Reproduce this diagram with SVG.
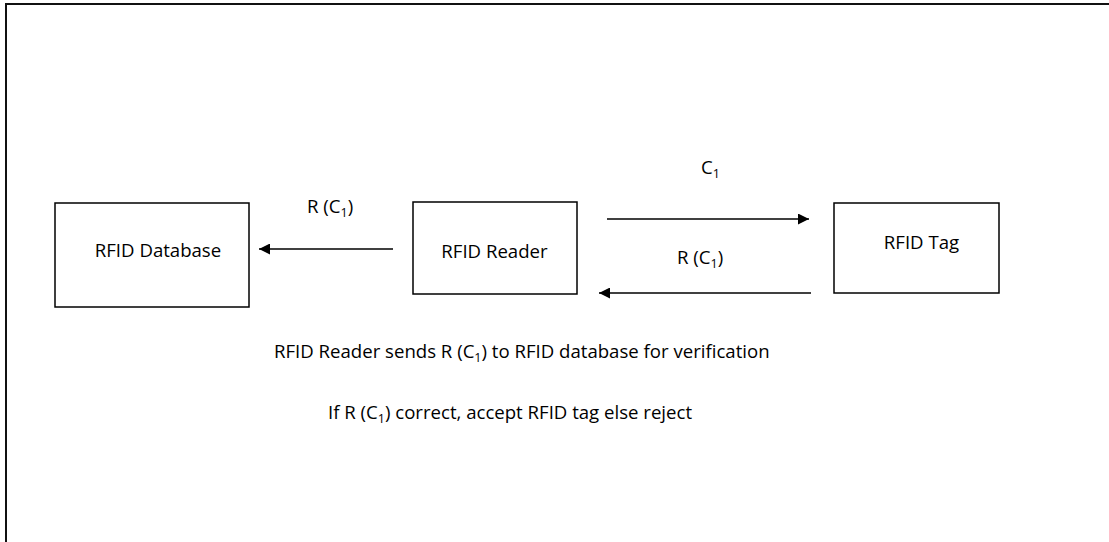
<svg xmlns="http://www.w3.org/2000/svg" width="1109" height="542" viewBox="0 0 1109 542">
<defs>
<style>
.box{fill:#fff;stroke:#000;stroke-width:1.5}
.t{font-family:"Open Sans","Liberation Sans",sans-serif;font-size:18.6px;fill:#000}
.s{font-size:12.5px}
.c{stroke:#000;stroke-width:1.5;fill:none}
</style>
<marker id="ah" viewBox="0 0 10 10" refX="10" refY="5" markerWidth="11" markerHeight="11" markerUnits="userSpaceOnUse" orient="auto">
<path d="M0,0 L10,5 L0,10 z" fill="#000"/>
</marker>
</defs>
<rect width="1109" height="542" fill="#fff"/>
<path d="M6,542 V4 H1109" stroke="#111" stroke-width="2" fill="none"/>
<g id="db">
<rect class="box" x="55" y="203" width="194" height="104"/>
<text class="t" x="158" y="257" text-anchor="middle">RFID Database</text>
</g>
<g id="reader">
<rect class="box" x="413" y="202" width="164" height="92"/>
<text class="t" x="494.5" y="258" text-anchor="middle">RFID Reader</text>
</g>
<g id="tag">
<rect class="box" x="834" y="203" width="165" height="90"/>
<text class="t" x="921.5" y="249" text-anchor="middle">RFID Tag</text>
</g>
<g id="connectors">
<line class="c" x1="393" y1="249" x2="259" y2="249" marker-end="url(#ah)"/>
<line class="c" x1="607" y1="219" x2="809" y2="219" marker-end="url(#ah)"/>
<line class="c" x1="811" y1="293" x2="599" y2="293" marker-end="url(#ah)"/>
<text class="t" x="307" y="213">R (C<tspan class="s" dy="4">1</tspan><tspan dy="-4">)</tspan></text>
<text class="t" x="701" y="174">C<tspan class="s" dy="4">1</tspan></text>
<text class="t" x="677" y="264">R (C<tspan class="s" dy="4">1</tspan><tspan dy="-4">)</tspan></text>
</g>
<text class="t" x="274" y="358">RFID Reader sends R (C<tspan class="s" dy="4">1</tspan><tspan dy="-4">) to RFID database for verification</tspan></text>
<text class="t" x="328" y="419">If R (C<tspan class="s" dy="4">1</tspan><tspan dy="-4">) correct, accept RFID tag else reject</tspan></text>
</svg>
